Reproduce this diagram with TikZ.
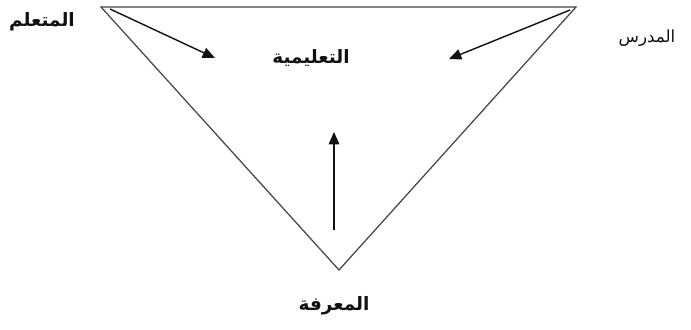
\documentclass[tikz,border=0pt]{standalone}
\usepackage{fontspec}
\newfontfamily\arabicfont[Script=Arabic]{DejaVu Sans}
\TeXXeTstate=1
\usetikzlibrary{arrows.meta,positioning}
\definecolor{trInk}{HTML}{111111}
\definecolor{trEdge}{HTML}{444444}
\tikzset{
  lbl/.style={font=\arabicfont\bfseries\fontsize{10.5}{12}\selectfont, text=trInk, inner sep=0pt},
  lblR/.style={font=\arabicfont\fontsize{9.5}{11}\selectfont, text=trInk, inner sep=0pt},
  edg/.style={draw=trEdge, line width=0.7pt},
  arr/.style={-{Triangle[length=7pt,width=6pt]}, draw=trInk, line width=0.8pt},
}
\begin{document}
\begin{tikzpicture}[x=0.02cm, y=-0.02cm]
  \useasboundingbox (0,0) rectangle (691,329);
  % vertices
  \coordinate (tl) at (101,7);
  \coordinate (tr) at (576,7);
  \coordinate (bt) at (339,270);
  \draw[edg] (tl) -- (tr) -- (bt) -- cycle;
  % labels
  \node[lbl] (learner) at (42,22) {\beginR المتعلم\endR};
  \node[lblR] (teacher) at (647,38) {\beginR المدرس\endR};
  \node[lbl] (didac) at (311,58) {\beginR التعليمية\endR};
  \node[lbl] (know) at (334,306) {\beginR المعرفة\endR};
  % arrows
  \coordinate (a1) at (110,9);
  \coordinate (a2) at (570,10);
  \coordinate (a3) at (334,230);
  \coordinate (b1) at (215,58);
  \coordinate (b2) at (449,59);
  \coordinate (b3) at (334,132);
  \draw[arr] (a1) -- (b1);
  \draw[arr] (a2) -- (b2);
  \draw[arr] (a3) -- (b3);
\end{tikzpicture}
\end{document}
